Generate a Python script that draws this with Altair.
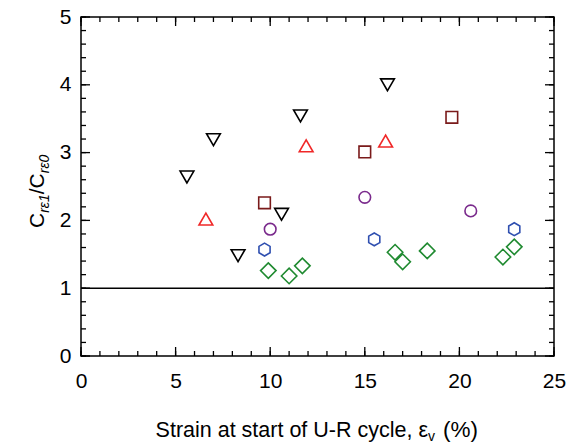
import altair as alt
import pandas as pd

W, H = 473, 339
FONT = "Liberation Sans"

# ---- data ----
down_x = [5.6, 7.0, 8.3, 10.6, 11.6, 16.2]
down_y = [2.64, 3.19, 1.48, 2.09, 3.54, 4.00]
up_x = [6.6, 11.9, 16.1]
up_y = [2.02, 3.10, 3.17]
sq_x = [9.7, 15.0, 19.6]
sq_y = [2.26, 3.01, 3.52]
circ_x = [10.0, 15.0, 20.6]
circ_y = [1.87, 2.34, 2.14]
hex_x = [9.7, 15.5, 22.9]
hex_y = [1.57, 1.72, 1.87]
dia_x = [9.9, 11.0, 11.7, 16.6, 17.0, 18.3, 22.3, 22.9]
dia_y = [1.26, 1.18, 1.33, 1.53, 1.39, 1.55, 1.46, 1.61]

x_major = [0, 5, 10, 15, 20, 25]
x_minor = list(range(0, 26))
y_major = [0, 1, 2, 3, 4, 5]
y_minor = [i / 5 for i in range(26)]
ref_line = [1]

HEX = "M0,-1L0.866,-0.5L0.866,0.5L0,1L-0.866,0.5L-0.866,-0.5Z"
series = [
    (down_x, down_y, "triangle-down", "#000000", 190),
    (up_x, up_y, "triangle-up", "#f02828", 190),
    (sq_x, sq_y, "square", "#7a1a1a", 135),
    (circ_x, circ_y, "circle", "#7a2a8c", 135),
    (hex_x, hex_y, HEX, "#2f4fb0", 165),
    (dia_x, dia_y, "diamond", "#1f8a30", 240),
]

xs = alt.Scale(domain=[0, 25], nice=False, zero=False)
ys = alt.Scale(domain=[0, 5], nice=False, zero=False)
xaxis = alt.Axis(values=x_major, title=None, format="d", labelFlush=False)
yaxis = alt.Axis(values=y_major, title=None, format="d", labelFlush=False)

layers = []

# reference line at y = 1
layers.append(
    alt.Chart(pd.DataFrame({"y": ref_line}))
    .mark_rule(color="black", strokeWidth=1.5)
    .encode(y=alt.Y("y:Q", scale=ys, axis=yaxis))
)

# inward ticks
def xticks(vals, length):
    d = pd.DataFrame({"x": vals})
    bot = alt.Chart(d).mark_rule(color="black", strokeWidth=1.3).encode(
        x=alt.X("x:Q", scale=xs, axis=xaxis), y=alt.value(H), y2=alt.value(H - length))
    top = alt.Chart(d).mark_rule(color="black", strokeWidth=1.3).encode(
        x=alt.X("x:Q", scale=xs, axis=xaxis), y=alt.value(0), y2=alt.value(length))
    return [bot, top]

def yticks(vals, length):
    d = pd.DataFrame({"y": vals})
    left = alt.Chart(d).mark_rule(color="black", strokeWidth=1.3).encode(
        y=alt.Y("y:Q", scale=ys, axis=yaxis), x=alt.value(0), x2=alt.value(length))
    right = alt.Chart(d).mark_rule(color="black", strokeWidth=1.3).encode(
        y=alt.Y("y:Q", scale=ys, axis=yaxis), x=alt.value(W), x2=alt.value(W - length))
    return [left, right]

layers += xticks(x_minor, 5) + xticks(x_major, 9)
layers += yticks(y_minor, 5) + yticks(y_major, 9)

# data points
for sx, sy, shape, color, size in series:
    d = pd.DataFrame({"x": sx, "y": sy})
    layers.append(
        alt.Chart(d)
        .mark_point(shape=shape, color=color, filled=False, size=size,
                    strokeWidth=1.6, opacity=1)
        .encode(x=alt.X("x:Q", scale=xs, axis=xaxis),
                y=alt.Y("y:Q", scale=ys, axis=yaxis))
    )

# y title pieces: C_{rε1}/C_{rε0} (rotated)
def ytext(t, xpix, ypix, size, italic=False):
    return (
        alt.Chart(pd.DataFrame({"t": [t]}))
        .mark_text(angle=270, align="left", baseline="alphabetic", font=FONT,
                   fontSize=size, fontStyle="italic" if italic else "normal",
                   color="black")
        .encode(x=alt.value(xpix), y=alt.value(ypix), text="t:N")
    )

yb, ys_b = -37, -32
y0 = 211
layers += [
    ytext("C", yb, y0, 21),
    ytext("rε1", ys_b, y0 - 15.2, 14, True),
    ytext("/", yb, y0 - 33.8, 21),
    ytext("C", yb, y0 - 39.6, 21),
    ytext("rε0", ys_b, y0 - 54.8, 14, True),
]

# x title pieces: Strain at start of U-R cycle, ε_v (%)
def xtext(t, xpix, ypix, size, align):
    return (
        alt.Chart(pd.DataFrame({"t": [t]}))
        .mark_text(align=align, baseline="alphabetic", font=FONT, fontSize=size,
                   color="black")
        .encode(x=alt.value(xpix), y=alt.value(ypix), text="t:N")
    )

xj = 347
layers += [
    xtext("Strain at start of U-R cycle, ε", xj, 420, 21.5, "right"),
    xtext("v", xj, 424, 14, "left"),
    xtext("(%)", xj + 15, 420, 22.5, "left"),
]

chart = (
    alt.layer(*layers)
    .properties(width=W, height=H,
                autosize=alt.AutoSizeParams(type="none"),
                padding={"left": 81, "top": 17, "right": 13, "bottom": 89})
    .configure_view(stroke="black", strokeWidth=1.5)
    .configure_axis(domain=False, ticks=False, grid=False, labelFont=FONT,
                    labelFontSize=21, labelColor="black", labelFlush=False)
    .configure_axisX(labelPadding=14)
    .configure_axisY(labelPadding=10)
)

chart.save("out.html", embed_options={"renderer": "svg", "actions": False})
